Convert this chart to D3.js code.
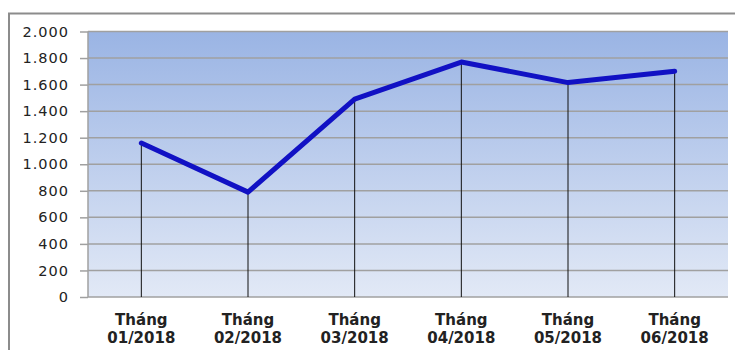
<!DOCTYPE html>
<html><head><meta charset="utf-8">
<script src="https://cdn.jsdelivr.net/npm/d3@7"></script>
<style>body{margin:0;background:#fff}svg{display:block}</style>
</head><body>
<svg id="c" width="735" height="350"></svg>
<script>
const months = ["Tháng 01/2018","Tháng 02/2018","Tháng 03/2018","Tháng 04/2018","Tháng 05/2018","Tháng 06/2018"];
const values = [1160, 790, 1490, 1770, 1615, 1700];
const yTicks = [0,200,400,600,800,1000,1200,1400,1600,1800,2000];

const svg = d3.select("#c");
const m = {left:88, right:728, top:31.5, bottom:297};

// outer frame
svg.append("path").attr("d","M9,350 V13.5 H735").attr("fill","none").attr("stroke","#8c8c8c").attr("stroke-width",2);

const defs = svg.append("defs");
const g = defs.append("linearGradient").attr("id","bg").attr("x1",0).attr("y1",0).attr("x2",0).attr("y2",1);
g.append("stop").attr("offset","0%").attr("stop-color","#9ab4e4");
g.append("stop").attr("offset","100%").attr("stop-color","#e2e9f6");

const x = d3.scaleBand().domain(months).range([m.left, m.right]);
const y = d3.scaleLinear().domain([0,2000]).range([m.bottom, m.top]);

svg.append("rect").attr("x",m.left).attr("y",m.top).attr("width",m.right-m.left).attr("height",m.bottom-m.top).attr("fill","url(#bg)");

// y axis with gridlines
const ya = svg.append("g").attr("transform",`translate(${m.left},0)`)
  .call(d3.axisLeft(y).tickValues(yTicks).tickSize(8).tickPadding(11)
    .tickFormat(d => d3.format(",")(d).replace(/,/g,".")));
ya.select(".domain").remove();
ya.selectAll(".tick line").attr("stroke","#a0a0a0").attr("stroke-width",1.5);
ya.selectAll(".tick text").attr("font-family","'DejaVu Sans', Verdana, sans-serif").attr("font-size",14.5)
  .attr("letter-spacing",1).attr("fill","#222");
svg.append("g").selectAll("line").data(yTicks).join("line")
  .attr("x1",m.left).attr("x2",m.right).attr("y1",d=>y(d)).attr("y2",d=>y(d))
  .attr("stroke","#a0a0a0").attr("stroke-width",1.5);
svg.append("line").attr("x1",m.left).attr("x2",m.left).attr("y1",m.top).attr("y2",m.bottom).attr("stroke","#a0a0a0").attr("stroke-width",1.5);

// drop lines
const cx = d => x(d) + x.bandwidth()/2;
svg.append("g").selectAll("line").data(months).join("line")
  .attr("x1",cx).attr("x2",cx).attr("y1",(d,i)=>y(values[i])).attr("y2",m.bottom)
  .attr("stroke","#111").attr("stroke-width",1);

// line
svg.append("path").datum(values)
  .attr("d", d3.line().x((d,i)=>cx(months[i])).y(d=>y(d)))
  .attr("fill","none").attr("stroke","#1111c4").attr("stroke-width",5).attr("stroke-linecap","round").attr("stroke-linejoin","round");

// x labels
const xl = svg.append("g").selectAll("text").data(months).join("text")
  .attr("x",cx).attr("y",325).attr("text-anchor","middle")
  .attr("font-family","'DejaVu Sans', Verdana, sans-serif").attr("font-size",15).attr("font-weight","bold").attr("fill","#222");
xl.append("tspan").attr("x",cx).text(d=>d.split(" ")[0]);
xl.append("tspan").attr("x",cx).attr("dy",18).text(d=>d.split(" ")[1]);
</script>
</body></html>
